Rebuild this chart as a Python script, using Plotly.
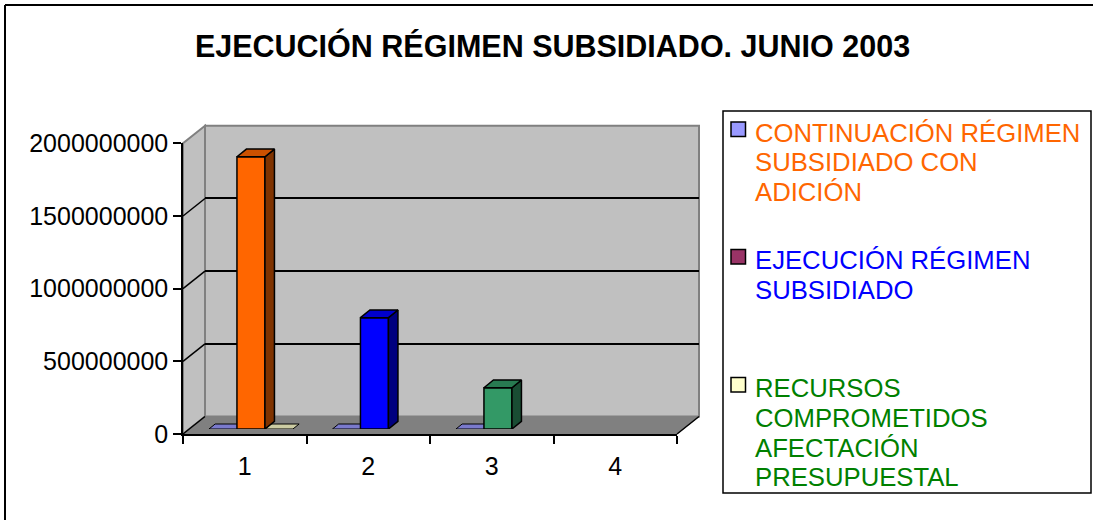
import plotly.graph_objects as go

# ---------------- data ----------------
categories = ["1", "2", "3", "4"]
series_names = [
    "CONTINUACIÓN RÉGIMEN<br>SUBSIDIADO CON<br>ADICIÓN",
    "EJECUCIÓN RÉGIMEN<br>SUBSIDIADO",
    "RECURSOS<br>COMPROMETIDOS<br>AFECTACIÓN<br>PRESUPUESTAL",
]
series1 = [0, 0, 0, None]
series2 = [1873000000, 766000000, 284000000, None]
series3 = [0, None, None, None]
y_ticks = [0, 500000000, 1000000000, 1500000000, 2000000000]
title_text = "EJECUCIÓN RÉGIMEN SUBSIDIADO. JUNIO 2003"

# ---------------- style ----------------
series_colors = ["#9999FF", "#993366", "#FFFFCC"]
point_colors = ["#FF6600", "#0000FF", "#339966", "#FF6600"]
legend_text_colors = ["#FF6600", "#0000FF", "#008000"]
FONT = "Liberation Sans, Arial, sans-serif"

W, H = 1093, 520
YMAX = 2000000000
NCAT = len(categories)

# pixel geometry of the 3D box
FX0, FX1, FY0, FYT = 183.0, 677.0, 434.0, 143.3   # front plane
BDX, BDY = 22.0, 17.5                              # floor depth shift
PDX, PDY = 6.2, 5.0                                # bar front plane shift
TDX, TDY = 9.5, 7.7                                # bar depth shift
BARGAP = 0.32


def px(x):
    return x / W


def py(y):
    return 1 - y / H


def shade(hexcol, f):
    h = hexcol.lstrip("#")
    r, g, b = (int(h[i:i + 2], 16) for i in (0, 2, 4))
    return "rgb(%d,%d,%d)" % (r * f, g * f, b * f)


ppx = (FX1 - FX0) / NCAT
ppy = (FY0 - FYT) / YMAX
dxu, dyu = TDX / ppx, TDY / ppy

centers = [i + 0.5 for i in range(NCAT)]
bw = (1 - BARGAP) / 3
all_series = [series1, series2, series3]

fig = go.Figure()

# placeholders so every subplot exists
fig.add_trace(go.Scatter(x=[None], y=[None], xaxis="x", yaxis="y", showlegend=False))

# flat (zero) bars -> top faces only, on the subplot drawn before the bars
FLAT = 0.65
for s, vals in enumerate(all_series):
    for i, v in enumerate(vals):
        if v is None or v > 0:
            continue
        x0 = centers[i] + (s - 1) * bw - bw / 2
        x1 = x0 + bw
        fig.add_trace(go.Scatter(
            x=[x0, x0 + dxu * FLAT, x1 + dxu * FLAT, x1, x0],
            y=[v, v + dyu * FLAT, v + dyu * FLAT, v, v],
            xaxis="x2", yaxis="y2", mode="lines", fill="toself",
            fillcolor=shade(series_colors[s], 0.8),
            line=dict(color="black", width=1), showlegend=False, hoverinfo="skip"))

# front faces of bars
for s, vals in enumerate(all_series):
    cols = point_colors if s == 1 else series_colors[s]
    fig.add_trace(go.Bar(
        x=centers, y=vals, xaxis="x3", yaxis="y3", name=series_names[s],
        marker=dict(color=cols, line=dict(color="black", width=1.5 if s == 1 else 0)),
        showlegend=False))

# side and top faces of the bars with height
for s, vals in enumerate(all_series):
    for i, v in enumerate(vals):
        if v is None or v <= 0:
            continue
        col = point_colors[i] if s == 1 else series_colors[s]
        x0 = centers[i] + (s - 1) * bw - bw / 2
        x1 = x0 + bw
        fig.add_trace(go.Scatter(
            x=[x1, x1, x1 + dxu, x1 + dxu, x1],
            y=[0, v, v + dyu, dyu, 0],
            xaxis="x3", yaxis="y3", mode="lines", fill="toself",
            fillcolor=shade(col, 0.5), line=dict(color="black", width=1.5),
            showlegend=False, hoverinfo="skip"))
        fig.add_trace(go.Scatter(
            x=[x0, x0 + dxu, x1 + dxu, x1, x0],
            y=[v, v + dyu, v + dyu, v, v],
            xaxis="x3", yaxis="y3", mode="lines", fill="toself",
            fillcolor=shade(col, 0.8), line=dict(color="black", width=1.5),
            showlegend=False, hoverinfo="skip"))

fig.add_trace(go.Scatter(x=[None], y=[None], xaxis="x4", yaxis="y4", showlegend=False))

# ---------------- walls and floor (paper shapes, below everything) ----------------
shapes = []


def poly(pts, fill, line_col, lw):
    path = "M " + " L ".join("%f,%f" % (px(a), py(b)) for a, b in pts) + " Z"
    shapes.append(dict(type="path", path=path, xref="paper", yref="paper",
                       fillcolor=fill, line=dict(color=line_col, width=lw), layer="below"))


def seg(a, b, c, d, col, lw, layer="below"):
    shapes.append(dict(type="line", x0=px(a), y0=py(b), x1=px(c), y1=py(d),
                       xref="paper", yref="paper", line=dict(color=col, width=lw), layer=layer))


BX0, BX1, BY0, BYT = FX0 + BDX, FX1 + BDX, FY0 - BDY, FYT - BDY
poly([(FX0, FY0), (BX0, BY0), (BX0, BYT), (FX0, FYT)], "#C0C0C0", "#808080", 2)
poly([(BX0, BY0), (BX1, BY0), (BX1, BYT), (BX0, BYT)], "#C0C0C0", "#808080", 2)
poly([(FX0, FY0), (BX0, BY0), (BX1, BY0), (FX1, FY0)], "#808080", "#808080", 1)
# side wall gridlines
for t in y_ticks[:-1]:
    yf = FY0 - t * ppy
    seg(FX0, yf, BX0, yf - BDY, "black", 1.5)
seg(FX1, FY0, BX1, BY0, "black", 1.5)

# outer frame
seg(5, 5, W, 5, "black", 2, "above")
seg(5, 5, 5, H, "black", 2, "above")

# legend box + keys
shapes.append(dict(type="rect", x0=px(723), x1=px(1091), y0=py(111), y1=py(493),
                   xref="paper", yref="paper", line=dict(color="black", width=1.5),
                   fillcolor="rgba(0,0,0,0)", layer="above"))

annotations = []
first_baselines = [141.7, 269.3, 397.3]
LINE_H = 29.7
LFS = 25.7
for s, name in enumerate(series_names):
    b0 = first_baselines[s]
    shapes.append(dict(type="rect", x0=px(731), x1=px(745.5), y0=py(b0 - 19.8), y1=py(b0 - 5.3),
                       xref="paper", yref="paper", fillcolor=series_colors[s],
                       line=dict(color="black", width=1.5), layer="above"))
    for k, line in enumerate(name.split("<br>")):
        bl = b0 + k * LINE_H
        annotations.append(dict(
            text=line, x=px(754), y=py(bl - 0.3465 * LFS), xref="paper", yref="paper",
            xanchor="left", yanchor="middle", showarrow=False, borderpad=0,
            font=dict(family=FONT, size=LFS, color=legend_text_colors[s])))

noax = dict(visible=False, range=[0, NCAT], fixedrange=True)

fig.update_layout(
    width=W, height=H, margin=dict(l=0, r=0, t=0, b=0, pad=0, autoexpand=False),
    paper_bgcolor="white", plot_bgcolor="rgba(0,0,0,0)",
    barmode="group", bargap=BARGAP, bargroupgap=0,
    showlegend=False,
    font=dict(family=FONT, color="black"),
    title=dict(text=title_text, x=552.5 / W, xanchor="center", y=py(46.4), yanchor="middle",
               xref="paper", yref="container", automargin=False,
               font=dict(family=FONT, size=30.5, color="black", weight="bold")),
    # back wall plane
    xaxis=dict(noax, domain=[px(BX0), px(BX1)], anchor="y"),
    yaxis=dict(domain=[py(BY0), py(BYT)], range=[0, YMAX], anchor="x",
               tickvals=y_ticks[1:-1], showgrid=True, gridcolor="black", gridwidth=1.5,
               showticklabels=False, ticks="", showline=False, zeroline=False, fixedrange=True),
    # bar plane (flat faces)
    xaxis2=dict(noax, domain=[px(FX0 + PDX), px(FX1 + PDX)], anchor="y2"),
    yaxis2=dict(visible=False, domain=[py(FY0 - PDY), py(FYT - PDY)], range=[0, YMAX], anchor="x2"),
    # bar plane (bars)
    xaxis3=dict(noax, domain=[px(FX0 + PDX), px(FX1 + PDX)], anchor="y3"),
    yaxis3=dict(visible=False, domain=[py(FY0 - PDY), py(FYT - PDY)], range=[0, YMAX], anchor="x3"),
    # front plane axes
    xaxis4=dict(domain=[px(FX0), px(FX1)], range=[0, NCAT], anchor="y4",
                tickvals=centers, ticktext=categories, ticks="",
                minor=dict(tickvals=list(range(NCAT + 1)), ticks="outside", ticklen=8,
                           tickwidth=1.5, tickcolor="black"),
                showline=True, linecolor="black", linewidth=1.5, showgrid=False, zeroline=False,
                tickfont=dict(family=FONT, size=25, color="black"), ticklabelstandoff=9,
                automargin=False, fixedrange=True),
    yaxis4=dict(domain=[py(FY0), py(FYT)], range=[0, YMAX], anchor="x4",
                tickvals=y_ticks, ticktext=[str(t) for t in y_ticks], ticks="outside",
                ticklen=8, tickwidth=1.5, tickcolor="black",
                showline=True, linecolor="black", linewidth=1.5, showgrid=False, zeroline=False,
                tickfont=dict(family=FONT, size=25, color="black"),
                automargin=False, fixedrange=True),
    shapes=shapes, annotations=annotations,
)

fig.write_html("out.html", config={"displayModeBar": False},
               post_script="document.body.style.margin='0';")
